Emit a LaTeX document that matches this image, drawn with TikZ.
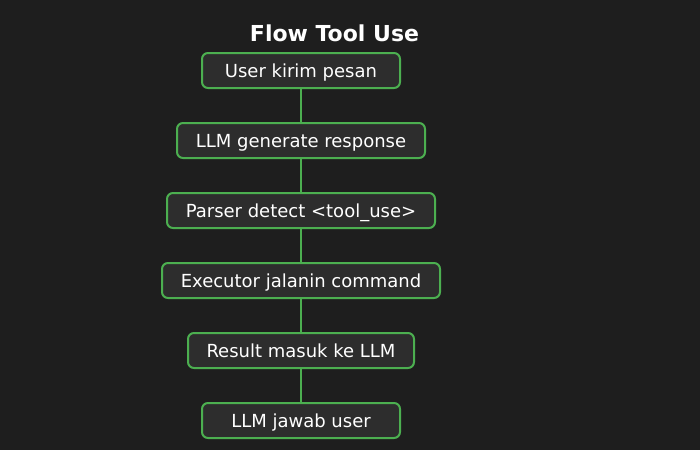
\documentclass[tikz,border=0pt]{standalone}
\usepackage{fontspec}
\setmainfont{DejaVu Sans}
\definecolor{latar}{HTML}{1E1E1E}
\definecolor{kotak}{HTML}{2D2D2D}
\definecolor{hijau}{HTML}{4CAF50}

\begin{document}
\begin{tikzpicture}[x=1pt,y=-1pt,
    langkah/.style={draw=hijau, line width=2pt, fill=kotak, rounded corners=6pt,
        minimum height=35pt, inner sep=0pt, text height=13pt, text depth=0pt,
        text=white, font=\fontsize{18}{21}\selectfont},
    garis/.style={hijau, line width=2pt}]
            \useasboundingbox (0,0) rectangle (700,450);
            \fill [latar] (0,0) rectangle (700,450);
            \node [text=white, font=\bfseries\fontsize{22}{26}\selectfont] (judul) at (334.5,33) {Flow Tool Use};
            \node [langkah, minimum width=198pt] (kirim) at (301,70.5) {User kirim pesan};
            \node [langkah, minimum width=248pt] (generate) at (301,140.5) {LLM generate response};
            \node [langkah, minimum width=268pt] (parser) at (301,210.5) {Parser detect <tool\_use>};
            \node [langkah, minimum width=278pt] (executor) at (301,280.5) {Executor jalanin command};
            \node [langkah, minimum width=226pt] (result) at (301,350.5) {Result masuk ke LLM};
            \node [langkah, minimum width=198pt] (jawab) at (301,420.5) {LLM jawab user};
            \draw [garis] (kirim) -- (generate);
            \draw [garis] (generate) -- (parser);
            \draw [garis] (parser) -- (executor);
            \draw [garis] (executor) -- (result);
            \draw [garis] (result) -- (jawab);
        \end{tikzpicture}
\end{document}
